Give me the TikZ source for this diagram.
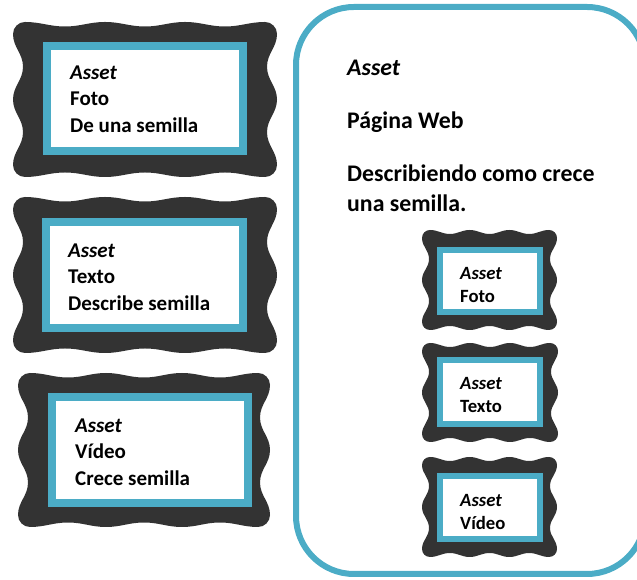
\documentclass[tikz,border=0pt]{standalone}
\usepackage{fontspec}
\setmainfont{Carlito}
\definecolor{framegray}{HTML}{333333}
\definecolor{aqua}{HTML}{4BACC6}
% wavy frame: left, bottom, right, top, wave depth top, wave depth side, corner
\newcommand{\wavyframe}[7]{%
  \pgfmathsetmacro{\qt}{(#3-#1-2*#7)/6}%
  \pgfmathsetmacro{\qs}{(#4-#2-2*#7)/4}%
  \fill[framegray] ({#1+#7},#4)
    \foreach \i in {1,2,3}{ to[out=0,in=180] ++(\qt,-#5) to[out=0,in=180] ++(\qt,#5) }
    arc[start angle=90, end angle=0, radius=#7]
    \foreach \i in {1,2}{ to[out=-90,in=90] ++(-#6,-\qs) to[out=-90,in=90] ++(#6,-\qs) }
    arc[start angle=0, end angle=-90, radius=#7]
    \foreach \i in {1,2,3}{ to[out=180,in=0] ++(-\qt,#5) to[out=180,in=0] ++(-\qt,-#5) }
    arc[start angle=270, end angle=180, radius=#7]
    \foreach \i in {1,2}{ to[out=90,in=-90] ++(#6,\qs) to[out=90,in=-90] ++(-#6,\qs) }
    arc[start angle=180, end angle=90, radius=#7] -- cycle;}
\begin{document}
\begin{tikzpicture}[x=1pt,y=1pt,
  bigtxt/.style={anchor=north west, inner sep=0pt, align=left, font=\bfseries\fontsize{21}{26.5}\selectfont},
  smalltxt/.style={anchor=north west, inner sep=0pt, align=left, font=\bfseries\fontsize{18.7}{23}\selectfont},
  paneltxt/.style={anchor=north west, inner sep=0pt, align=left, font=\bfseries\fontsize{23.8}{30}\selectfont}]
\useasboundingbox (0,0) rectangle (637,580);
\clip (0,0) rectangle (637,580);
% left column
\wavyframe{13}{403}{277}{558}{4.5}{10}{12}
\draw[aqua, line width=8pt, fill=white] (47,429) rectangle (243,534);
\node[bigtxt] (foto) at (70,514.5) {\textit{Asset}\\Foto\\De una semilla};
\wavyframe{13}{227}{277}{383}{4.5}{10}{12}
\draw[aqua, line width=8pt, fill=white] (46,252) rectangle (243,358);
\node[bigtxt] (texto) at (68,336.5) {\textit{Asset}\\Texto\\Describe semilla};
\wavyframe{18}{53}{270}{207}{4.5}{10}{12}
\draw[aqua, line width=8pt, fill=white] (52,77) rectangle (248,183);
\node[bigtxt] (video) at (75,161.5) {\textit{Asset}\\Vídeo\\Crece semilla};
% web page
\draw[aqua, line width=6pt, rounded corners=58pt] (296,6) rectangle (645,573);
\node[paneltxt] (pagina) at (347,520) {\textit{Asset}\\[23pt]Página Web\\[23pt]Describiendo como crece\\una semilla.};
\wavyframe{422}{250}{557}{350}{4}{7}{8}
\draw[aqua, line width=6pt, fill=white] (440,268) rectangle (540,330);
\node[smalltxt] (fotoweb) at (460,313) {\textit{Asset}\\Foto};
\wavyframe{422}{138}{558}{237}{4}{7}{8}
\draw[aqua, line width=6pt, fill=white] (440,156) rectangle (540,220);
\node[smalltxt] (textoweb) at (460,203) {\textit{Asset}\\Texto};
\wavyframe{422}{23}{557}{123}{4}{7}{8}
\draw[aqua, line width=6pt, fill=white] (440,41) rectangle (540,104);
\node[smalltxt] (videoweb) at (460,86) {\textit{Asset}\\Vídeo};
\end{tikzpicture}
\end{document}
